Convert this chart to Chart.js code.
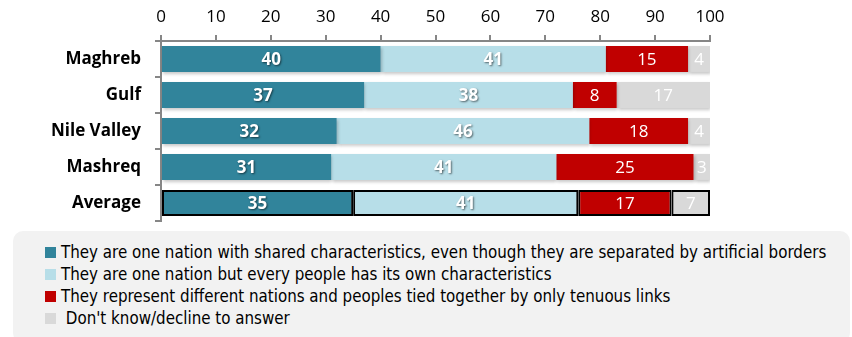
<!DOCTYPE html>
<html>
<head>
<meta charset="utf-8">
<script src="https://cdn.jsdelivr.net/npm/chart.js@4"></script>
<style>
  body { margin: 0; background: #fff; }
  #wrap { position: relative; width: 852px; height: 337px; overflow: hidden; }
  #legend {
    position: absolute; left: 13px; top: 231px; width: 837px; height: 112px;
    background: #f2f2f2; border-radius: 10px; box-sizing: border-box; padding: 10px 0 0 32px;
    font-family: "DejaVu Sans Condensed", sans-serif; font-size: 16.8px; color: #000;
  }
  .item { height: 22px; line-height: 22px; display: flex; align-items: center; white-space: pre; }
  .box { width: 11px; height: 11px; margin-right: 5px; flex: none; }
</style>
</head>
<body>
<div id="wrap">
  <canvas id="chart" width="852" height="337"></canvas>
  <div id="legend"></div>
</div>
<script>
// Data
const categories = ['Maghreb', 'Gulf', 'Nile Valley', 'Mashreq', 'Average'];
const oneNation = [40, 37, 32, 31, 35];
const ownCharacteristics = [41, 38, 46, 41, 41];
const differentNations = [15, 8, 18, 25, 17];
const dontKnow = [4, 17, 4, 3, 7];
const seriesLabels = [
    'They are one nation with shared characteristics, even though they are separated by artificial borders',
    'They are one nation but every people has its own characteristics',
    'They represent different nations and peoples tied together by only tenuous links',
    ' Don\'t know/decline to answer'
];
const seriesColors = ['#31849b', '#b7dee8', '#c00000', '#d9d9d9'];
const boldLabels = [true, true, false, false];
const xMin = 0, xMax = 100, xStep = 10;

// black outline only on the Average row
const avgBorder = categories.map(c => c === 'Average' ? 2 : 0);

function makeDataset(i, values) {
    return {
        label: seriesLabels[i],
        data: values,
        backgroundColor: seriesColors[i],
        borderColor: '#000',
        borderWidth: avgBorder,
        borderSkipped: false,
        barPercentage: 0.72,
        categoryPercentage: 1
    };
}

// soft drop shadow under the bars
const barShadow = {
    id: 'barShadow',
    beforeDatasetDraw(chart) {
        const ctx = chart.ctx;
        ctx.save();
        ctx.shadowColor = 'rgba(0,0,0,0.22)';
        ctx.shadowOffsetX = 1;
        ctx.shadowOffsetY = 2;
        ctx.shadowBlur = 3;
    },
    afterDatasetDraw(chart) {
        chart.ctx.restore();
    }
};

// value labels centred in each segment
const segmentLabels = {
    id: 'segmentLabels',
    afterDatasetsDraw(chart) {
        const ctx = chart.ctx;
        chart.data.datasets.forEach((ds, i) => {
            const meta = chart.getDatasetMeta(i);
            meta.data.forEach((bar, j) => {
                const cx = (bar.x + bar.base) / 2;
                ctx.save();
                ctx.fillStyle = '#fff';
                ctx.textAlign = 'center';
                ctx.textBaseline = 'middle';
                if (boldLabels[i]) {
                    ctx.font = 'bold 17px "Open Sans"';
                    ctx.shadowColor = 'rgba(0,0,0,0.55)';
                    ctx.shadowOffsetX = 1;
                    ctx.shadowOffsetY = 1.5;
                    ctx.shadowBlur = 2;
                } else {
                    ctx.font = '17px "Open Sans"';
                }
                ctx.fillText(String(ds.data[j]), cx, bar.y + 1);
                ctx.restore();
            });
        });
    }
};

const chart = new Chart(document.getElementById('chart'), {
    type: 'bar',
    data: {
        labels: categories,
        datasets: [
            makeDataset(0, oneNation),
            makeDataset(1, ownCharacteristics),
            makeDataset(2, differentNations),
            makeDataset(3, dontKnow)
        ]
    },
    options: {
        indexAxis: 'y',
        responsive: false,
        animation: false,
        layout: { padding: { left: 0, top: 0, right: 142, bottom: 116 } },
        plugins: {
            legend: { display: false },
            tooltip: { enabled: false }
        },
        scales: {
            x: {
                position: 'top',
                stacked: true,
                min: xMin,
                max: xMax,
                afterFit: s => { s.height = 41; },
                ticks: {
                    stepSize: xStep,
                    color: '#000',
                    padding: 8,
                    font: { family: 'Open Sans', size: 17 }
                },
                grid: { drawOnChartArea: false, tickLength: 6, color: '#868686', lineWidth: 2 },
                border: { color: '#868686', width: 2 }
            },
            y: {
                stacked: true,
                afterFit: s => { s.width = 161; },
                ticks: {
                    color: '#000',
                    padding: 14,
                    font: { family: 'Open Sans', size: 17, weight: 'bold' }
                },
                grid: { drawOnChartArea: false, tickLength: 6, color: '#868686', lineWidth: 2 },
                border: { color: '#868686', width: 2 }
            }
        }
    },
    plugins: [barShadow, segmentLabels]
});

// legend in one column, like the original
const legendEl = document.getElementById('legend');
chart.data.datasets.forEach(ds => {
    const row = document.createElement('div');
    row.className = 'item';
    const box = document.createElement('span');
    box.className = 'box';
    box.style.background = ds.backgroundColor;
    const txt = document.createElement('span');
    txt.textContent = ds.label;
    row.appendChild(box);
    row.appendChild(txt);
    legendEl.appendChild(row);
});
</script>
</body>
</html>
